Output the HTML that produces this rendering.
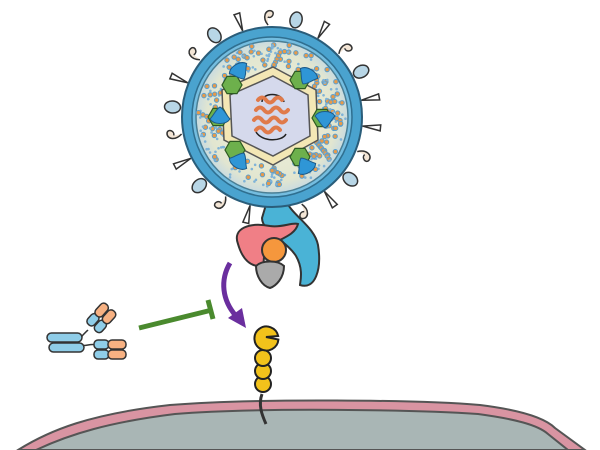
<!DOCTYPE html>
<html><head><meta charset="utf-8"><style>html,body{margin:0;padding:0;background:#fff}svg{display:block}</style></head>
<body>
<svg id="s" width="600" height="450" viewBox="0 0 600 450" xmlns="http://www.w3.org/2000/svg">
<defs>
<radialGradient id="vg" cx="50%" cy="50%" r="50%"><stop offset="0" stop-color="#f3f2dc"/><stop offset="0.85" stop-color="#e2e6d0"/><stop offset="1" stop-color="#c9dbe0"/></radialGradient>
</defs>
<path d="M18,450 C50,430 90,414 170,405 C260,398 420,400 480,405 C520,410 545,418 555,428 L585,450 Z" fill="#d994a2" stroke="#555" stroke-width="2"/>
<path d="M36,450 C70,434 110,422 175,414 C260,407 420,410 478,414 C515,419 538,425 548,434 L568,450 Z" fill="#a9b6b5" stroke="#555" stroke-width="2"/>
<g id="spikes"></g>
<path d="M268,198 L262,218 C262,232 286,240 296,256 C304,270 300,282 300,285 C315,290 322,270 318,245 C314,225 290,215 285,198 Z" fill="#4ab3d6" stroke="#333" stroke-width="2"/>
<circle cx="272" cy="117" r="90" fill="#4aa3cf" stroke="#2a5d7a" stroke-width="2"/>
<circle cx="272" cy="117" r="80" fill="#74bde0" stroke="#2f6f90" stroke-width="1.5"/>
<circle cx="272" cy="117" r="76" fill="url(#vg)" stroke="#4a7f95" stroke-width="1.5"/>
<g id="dots"></g>
<polygon points="273,67 316,90 318,140 273,165 224,140 222,90" fill="#f3e7b5" stroke="#555" stroke-width="1.5"/>
<polygon points="273,76 308,95 310,136 273,156 232,136 230,95" fill="#d5d9ec" stroke="#555" stroke-width="1.5"/>
<path d="M262,102 C262,92 282,92 284,102" fill="none" stroke="#222" stroke-width="1.5"/>
<path d="M256,132 C262,142 282,142 286,134" fill="none" stroke="#222" stroke-width="1.5"/>
<g fill="none" stroke="#e07a4a" stroke-width="4" stroke-linecap="round">
<path d="M258,100 q4,-5 8,0 q4,5 8,0 q4,-5 8,0"/>
<path d="M256,110 q4,-5 8,0 q4,5 8,0 q4,-5 8,0 q4,5 8,0"/>
<path d="M254,120 q4,-5 8,0 q4,5 8,0 q4,-5 8,0 q4,5 8,0"/>
<path d="M256,130 q4,-5 8,0 q4,5 8,0 q4,-5 8,0"/>
</g>
<g id="prot"></g>
<path d="M238,244 C232,228 250,222 270,226 C282,228 292,222 298,224 C296,232 288,236 280,240 C268,244 262,256 264,266 C250,268 242,258 238,244 Z" fill="#f07f86" stroke="#333" stroke-width="2"/>
<circle cx="274" cy="250" r="12" fill="#f5973d" stroke="#333" stroke-width="2"/>
<path d="M256,266 C262,260 278,260 284,266 C284,278 276,286 270,288 C262,286 256,276 256,266 Z" fill="#aaa" stroke="#333" stroke-width="2"/>
<path d="M230,263 C220,280 222,300 236,316" fill="none" stroke="#6a2e9e" stroke-width="5"/>
<polygon points="228,318 246,328 242,308" fill="#6a2e9e"/>
<line x1="139" y1="328" x2="212" y2="310" stroke="#4a8a2e" stroke-width="5"/>
<line x1="208" y1="300" x2="213" y2="319" stroke="#4a8a2e" stroke-width="5"/>
<g stroke="#333" stroke-width="1.5">
<path d="M80,339 C84,333 86,332 88,330" fill="none"/>
<path d="M80,345 C86,347 90,343 96,345" fill="none"/>
<rect x="47" y="333" width="35" height="9" rx="4.5" fill="#8fcde8"/>
<rect x="49" y="343" width="35" height="9" rx="4.5" fill="#8fcde8"/>
<rect x="94" y="340" width="15" height="9" rx="4" fill="#8fcde8"/>
<rect x="108" y="340" width="18" height="9" rx="4" fill="#f7b182"/>
<rect x="94" y="350" width="15" height="9" rx="4" fill="#8fcde8"/>
<rect x="108" y="350" width="18" height="9" rx="4" fill="#f7b182"/>
<g transform="rotate(-48 97 316)">
<rect x="85" y="311" width="13" height="9" rx="4" fill="#8fcde8"/>
<rect x="97" y="311" width="15" height="9" rx="4" fill="#f7b182"/>
<rect x="85" y="321" width="13" height="9" rx="4" fill="#8fcde8"/>
<rect x="97" y="321" width="15" height="9" rx="4" fill="#f7b182"/>
</g>
</g>
<path d="M262,394 C258,405 262,415 266,424" fill="none" stroke="#333" stroke-width="3"/>
<circle cx="263" cy="384" r="8" fill="#f2c21b" stroke="#222" stroke-width="2"/>
<circle cx="263" cy="371" r="8" fill="#f2c21b" stroke="#222" stroke-width="2"/>
<circle cx="263" cy="358" r="8" fill="#f2c21b" stroke="#222" stroke-width="2"/>
<path d="M266,337 L278,333 A12,12 0 1 1 276,330 Z" fill="#f2c21b" stroke="#222" stroke-width="2" transform="rotate(30 266 337)"/>
</svg>
<script>
var NS="http://www.w3.org/2000/svg",cx=272,cy=117;
function el(t,a,p){var e=document.createElementNS(NS,t);for(var k in a)e.setAttribute(k,a[k]);p.appendChild(e);return e;}
var sp=document.getElementById("spikes");
for(var i=0;i<22;i++){var a=i/22*Math.PI*2+0.1;var x=cx+Math.cos(a)*100,y=cy+Math.sin(a)*100;
 if(i%3==0){el("polygon",{points:"-3,-9 3,-9 0,9",fill:"#fff",stroke:"#333","stroke-width":1.5,transform:"translate("+x+","+y+") rotate("+(a*180/Math.PI+90)+")"},sp);}
 else if(i%3==1){el("path",{d:"M0,8 C-6,0 -2,-8 4,-6 C8,-4 4,2 0,0",fill:"#f3e5d5",stroke:"#333","stroke-width":1.5,transform:"translate("+x+","+y+") rotate("+(a*180/Math.PI+90)+")"},sp);}
 else{el("ellipse",{cx:0,cy:0,rx:6,ry:8,fill:"#b8d6e6",stroke:"#333","stroke-width":1.5,transform:"translate("+x+","+y+") rotate("+(a*180/Math.PI+90)+")"},sp);}
}
var d=document.getElementById("dots"),seed=7;function r(){seed=(seed*9301+49297)%233280;return seed/233280;}
for(var i=0;i<300;i++){var a=r()*Math.PI*2,rr=50+r()*24;var x=cx+Math.cos(a)*rr,y=cy+Math.sin(a)*rr;
 var big=r()<0.5;
 el("circle",{cx:x,cy:y,r:big?2.2:1.3,fill:big?"#e69a4a":"#7fb3d8",stroke:big?"#5a9fd0":"none","stroke-width":1},d);}
var pr=document.getElementById("prot");
var pts=[[240,72,-30],[307,77,30],[220,115,180],[325,120,0],[240,160,-150],[305,165,150]];
var hex=[[232,85],[300,80],[218,117],[322,118],[235,150],[300,157]];
for(var i=0;i<6;i++){var h=hex[i];var s="";for(var k=0;k<6;k++){var an=k*Math.PI/3;s+=(h[0]+Math.cos(an)*10)+","+(h[1]+Math.sin(an)*10)+" ";}
 el("polygon",{points:s,fill:"#6db04c",stroke:"#2d5a22","stroke-width":1.2},pr);
 var p=pts[i];el("path",{d:"M-10,-4 C-6,-10 6,-10 10,-4 C6,0 4,6 0,8 C-4,6 -6,0 -10,-4 Z",fill:"#2f96d6",stroke:"#1d5a88","stroke-width":1,transform:"translate("+p[0]+","+p[1]+") rotate("+p[2]+")"},pr);}
</script>
</body></html>
